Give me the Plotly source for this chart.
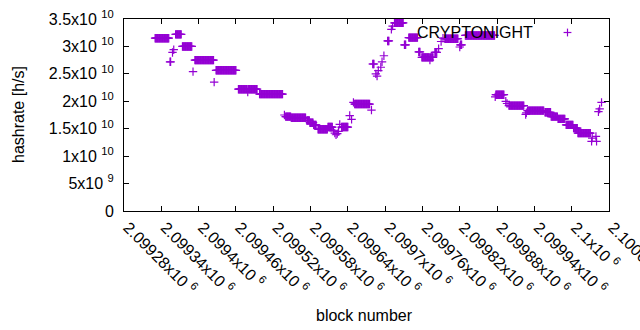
import plotly.graph_objects as go

# plateau runs: one point per block
seg_start = [2099330, 2099354, 2099358, 2099360, 2099363, 2099374, 2099391, 2099394, 2099425, 2099428,
             2099464, 2099479, 2099480, 2099498, 2099538, 2099540, 2099549, 2099574, 2099579, 2099585,
             2099592, 2099608, 2099617, 2099619, 2099621, 2099623, 2099625, 2099627, 2099630, 2099643,
             2099646, 2099649, 2099651, 2099678, 2099680, 2099685, 2099687, 2099689, 2099693, 2099695,
             2099698, 2099704, 2099710, 2099712, 2099715, 2099731, 2099738, 2099754, 2099759, 2099772,
             2099773, 2099780, 2099786, 2099790, 2099793, 2099796, 2099820, 2099821, 2099829, 2099877,
             2099878, 2099894, 2099896, 2099899, 2099926, 2099927, 2099929, 2099957, 2099967, 2099978,
             2099991, 2100003, 2100010, 2100032, 2100033, 2100039, 2100040, 2100043, 2100045, 2100048]
seg_end = [2099352, 2099355, 2099358, 2099360, 2099372, 2099389, 2099391, 2099424, 2099425, 2099460,
           2099478, 2099479, 2099494, 2099535, 2099538, 2099548, 2099572, 2099578, 2099584, 2099589,
           2099607, 2099615, 2099617, 2099619, 2099621, 2099623, 2099625, 2099627, 2099640, 2099643,
           2099646, 2099649, 2099675, 2099678, 2099682, 2099685, 2099687, 2099689, 2099693, 2099695,
           2099698, 2099706, 2099710, 2099712, 2099729, 2099733, 2099752, 2099756, 2099771, 2099772,
           2099777, 2099783, 2099786, 2099790, 2099793, 2099817, 2099820, 2099823, 2099876, 2099877,
           2099891, 2099894, 2099896, 2099923, 2099926, 2099927, 2099955, 2099966, 2099977, 2099989,
           2100002, 2100009, 2100030, 2100032, 2100033, 2100039, 2100040, 2100043, 2100045, 2100048]
seg_hashrate = [3.15e10, 2.72e10, 2.89e10, 2.94e10, 3.22e10, 3.00e10, 2.54e10, 2.75e10, 2.35e10, 2.565e10,
                2.22e10, 2.17e10, 2.22e10, 2.13e10, 1.75e10, 1.72e10, 1.70e10, 1.65e10, 1.61e10, 1.57e10,
                1.49e10, 1.53e10, 1.46e10, 1.42e10, 1.39e10, 1.41e10, 1.45e10, 1.58e10, 1.53e10, 1.74e10,
                1.67e10, 1.98e10, 1.95e10, 1.84e10, 2.68e10, 2.50e10, 2.46e10, 2.56e10, 2.62e10, 2.72e10,
                2.83e10, 3.10e10, 3.31e10, 3.37e10, 3.43e10, 3.03e10, 3.16e10, 2.90e10, 2.80e10, 2.75e10,
                2.80e10, 2.89e10, 2.96e10, 3.09e10, 3.15e10, 3.14e10, 2.99e10, 3.03e10, 3.20e10, 2.08e10,
                2.12e10, 2.00e10, 1.96e10, 1.92e10, 1.76e10, 1.79e10, 1.83e10, 1.80e10, 1.72e10, 1.68e10,
                1.57e10, 1.51e10, 1.42e10, 1.27e10, 1.33e10, 1.36e10, 1.27e10, 1.81e10, 1.86e10, 1.98e10]

x_tickvals = [2099280, 2099340, 2099400, 2099460, 2099520, 2099580, 2099640,
              2099700, 2099760, 2099820, 2099880, 2099940, 2100000, 2100060]
x_ticktext = ["2.09928x10 <sup>6</sup>", "2.09934x10 <sup>6</sup>", "2.0994x10 <sup>6</sup>",
              "2.09946x10 <sup>6</sup>", "2.09952x10 <sup>6</sup>", "2.09958x10 <sup>6</sup>",
              "2.09964x10 <sup>6</sup>", "2.0997x10 <sup>6</sup>", "2.09976x10 <sup>6</sup>",
              "2.09982x10 <sup>6</sup>", "2.09988x10 <sup>6</sup>", "2.09994x10 <sup>6</sup>",
              "2.1x10 <sup>6</sup>", "2.1006x10 <sup>6</sup>"]
y_tickvals = [0, 5e9, 1e10, 1.5e10, 2e10, 2.5e10, 3e10, 3.5e10]
y_ticktext = ["0", "5x10 <sup>9</sup>", "1x10 <sup>10</sup>", "1.5x10 <sup>10</sup>", "2x10 <sup>10</sup>",
              "2.5x10 <sup>10</sup>", "3x10 <sup>10</sup>", "3.5x10 <sup>10</sup>"]

series_name = "CRYPTONIGHT"
color = "#9400D3"

blocks, hashrate = [], []
for s, e, v in zip(seg_start, seg_end, seg_hashrate):
    for b in range(s, e + 1):
        blocks.append(b)
        hashrate.append(v)

FONT = "Liberation Sans, Arial, sans-serif"
FS = 16

fig = go.Figure()
fig.add_trace(go.Scatter(
    x=blocks, y=hashrate, mode="markers", name=series_name, showlegend=False,
    marker=dict(symbol="cross-thin", size=6, color=color, line=dict(color=color, width=1.2)),
))

axis_common = dict(showgrid=False, zeroline=False, showline=True, linecolor="black", linewidth=1,
                   mirror="allticks", ticks="inside", ticklen=5, tickcolor="black", automargin=False,
                   tickfont=dict(family=FONT, size=FS, color="black"))
fig.update_xaxes(range=[2099280, 2100060], tickmode="array", tickvals=x_tickvals, ticktext=x_ticktext,
                 tickangle=45, ticklabelstandoff=0, ticklabelshift=4, ticklabeloverflow="allow",
                 **axis_common)
fig.update_yaxes(range=[0, 3.5e10], tickmode="array", tickvals=y_tickvals, ticktext=y_ticktext,
                 ticklabelstandoff=6, **axis_common)

fig.update_layout(
    width=640, height=330, margin=dict(l=124, r=31, t=19, b=119),
    plot_bgcolor="white", paper_bgcolor="white",
    font=dict(family=FONT, size=FS, color="black"),
    annotations=[
        dict(text="hashrate [h/s]", xref="paper", yref="paper", x=(18 - 124) / 485, y=0.5, textangle=-90,
             showarrow=False, xanchor="center", yanchor="middle", font=dict(size=FS)),
        dict(text="block number", xref="paper", yref="paper", x=(364 - 124) / 485, y=(211 - 315) / 192,
             showarrow=False, xanchor="center", yanchor="middle", font=dict(size=FS)),
        dict(text=series_name, xref="paper", yref="paper", x=(535 - 124) / 485, y=(211 - 32) / 192,
             showarrow=False, xanchor="right", yanchor="middle", font=dict(size=FS)),
    ],
    shapes=[
        dict(type="line", xref="paper", yref="paper", x0=(567.5 - 3.9 - 124) / 485, x1=(567.5 + 3.9 - 124) / 485,
             y0=(211 - 32.5) / 192, y1=(211 - 32.5) / 192, line=dict(color=color, width=1.2)),
        dict(type="line", xref="paper", yref="paper", x0=(567.5 - 124) / 485, x1=(567.5 - 124) / 485,
             y0=(211 - 32.5 - 3.9) / 192, y1=(211 - 32.5 + 3.9) / 192, line=dict(color=color, width=1.2)),
    ],
)

fig.write_html("out.html", config={"displayModeBar": False},
               post_script="document.body.style.margin='0px';")
